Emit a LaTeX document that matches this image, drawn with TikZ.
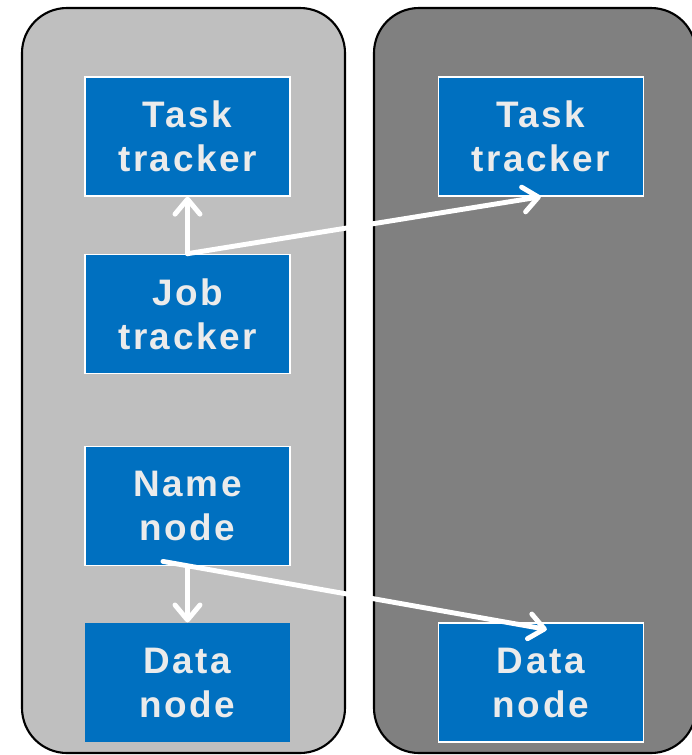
\documentclass[tikz,border=0pt]{standalone}
\usepackage{fontspec}
\setmainfont{Liberation Sans}[LetterSpace=7]
\usepackage{xcolor}
\usetikzlibrary{arrows.meta, positioning}

\definecolor{boxblue}{HTML}{0070C0}
\definecolor{leftgray}{HTML}{BFBFBF}
\definecolor{rightgray}{HTML}{808080}
\definecolor{textgray}{HTML}{EBEBEB}

\begin{document}
\begin{tikzpicture}[
    x=0.02cm, y=-0.02cm,
    box/.style={draw=white, line width=0.8pt, fill=boxblue, minimum width=4.1cm, minimum height=2.38cm, inner sep=0pt, align=center, text=textgray, font=\fontsize{21}{25}\selectfont\bfseries},
    panel/.style={draw=black, line width=1.2pt, rounded corners=0.9cm},
    link/.style={draw=white, line width=2.8pt, line cap=round, -{Straight Barb[length=0.3cm, width=0.5cm, round]}}
]
\useasboundingbox (0,0) rectangle (691,755);

% Machines
\draw[panel, fill=leftgray] (22,8) rectangle (345,753);
\draw[panel, fill=rightgray] (374,8) rectangle (696,753);

% Master
\node[box] (task1) at (187.5,136.5) {Task\\tracker};
\node[box, below=1.14cm of task1] (job) {Job\\tracker};
\node[box, below=1.44cm of job] (name) {Name\\node};
\node[box, draw=none, below=1.12cm of name] (data1) {Data\\node};

% Slave
\node[box, right=2.94cm of task1] (task2) {Task\\tracker};
\node[box] (data2) at (task2 |- data1) {Data\\node};

% Arrows
\draw[link] (job.north) -- (task1.south);
\draw[link] (job.north) -- (task2.south);
\draw[link] (name.south) -- (data1.north);
\draw[link] ([xshift=-0.49cm, yshift=0.1cm]name.south) -- ([xshift=0.12cm, yshift=-0.14cm]data2.north);
\end{tikzpicture}
\end{document}
